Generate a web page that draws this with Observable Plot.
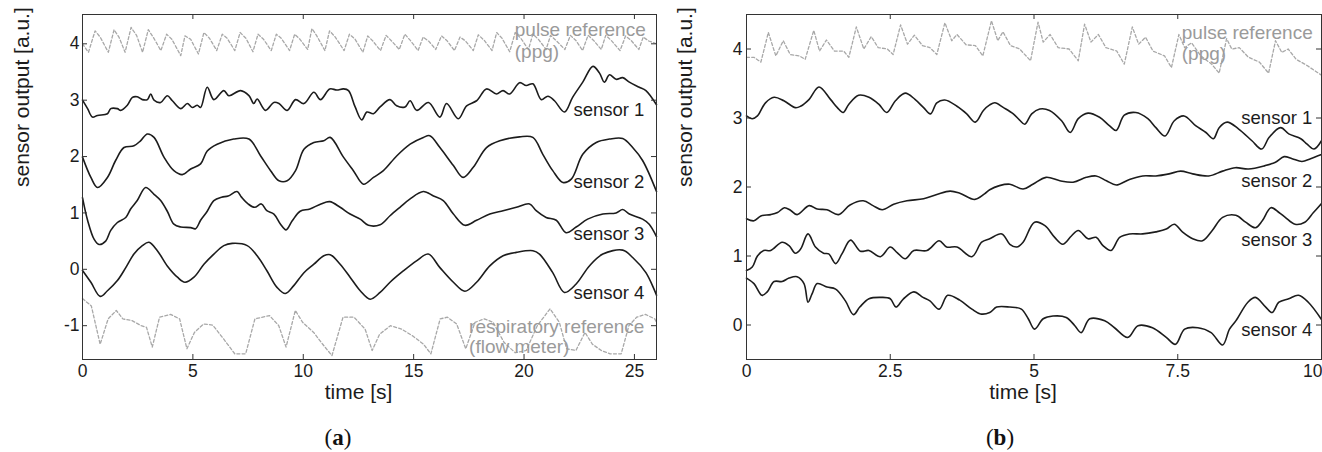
<!DOCTYPE html>
<html>
<head>
<meta charset="utf-8">
<script src="https://cdn.jsdelivr.net/npm/d3@7"></script>
<script src="https://cdn.jsdelivr.net/npm/@observablehq/plot@0.6"></script>
<style>
  html, body { margin: 0; padding: 0; background: #fff; }
  #wrap { position: relative; width: 1322px; height: 452px; overflow: hidden; }
  #pa { position: absolute; left: 0; top: 0; }
  #pb { position: absolute; left: 660px; top: 0; }
  .cap { position: absolute; width: 100px; text-align: center; font-family: "Liberation Serif", "Times New Roman", serif; font-size: 23px; line-height: 23px; color: #111; }
</style>
</head>
<body>
<div id="wrap">
  <div id="pa"></div>
  <div id="pb"></div>
  <div class="cap" style="left:288px; top:426px;">(<b>a</b>)</div>
  <div class="cap" style="left:950px; top:426px;">(<b>b</b>)</div>
</div>
<script>
// ---------- Panel (a) data : [time s, output a.u.] ----------
const aPulse = [[0,4.0],[0.27,3.85],[0.57,4.23],[0.8,4.12],[1.17,3.85],[1.43,4.25],[1.65,4.12],[1.93,3.85],[2.2,4.29],[2.45,4.15],[2.72,3.85],[2.98,4.25],[3.2,4.12],[3.55,3.88],[3.81,4.17],[4.05,4.08],[4.45,3.79],[4.64,4.14],[4.9,4.08],[5.25,3.82],[5.5,4.2],[5.75,4.1],[6.08,3.88],[6.33,4.17],[6.55,4.1],[6.9,3.88],[7.14,4.2],[7.4,4.1],[7.72,3.86],[7.95,4.17],[8.2,4.08],[8.55,3.88],[8.78,4.17],[9.0,4.1],[9.38,3.88],[9.61,4.17],[9.85,4.08],[10.2,3.9],[10.39,4.27],[10.6,4.15],[10.98,3.88],[11.19,4.23],[11.45,4.12],[11.85,3.88],[12.09,4.17],[12.35,4.08],[12.7,3.85],[12.92,4.14],[13.15,4.05],[13.5,3.88],[13.75,4.15],[14.0,4.05],[14.35,3.9],[14.6,4.17],[14.85,4.06],[15.2,3.88],[15.43,4.12],[15.7,4.04],[16.0,3.9],[16.26,4.14],[16.5,4.06],[16.85,3.88],[17.1,4.12],[17.35,4.05],[17.7,3.88],[17.93,4.16],[18.2,4.06],[18.55,3.88],[18.76,4.2],[19.0,4.1],[19.35,3.86],[19.6,4.2],[19.85,4.1],[20.2,3.9],[20.4,4.17],[20.65,4.08],[21.0,3.9],[21.2,4.15],[21.45,4.06],[21.85,3.9],[22.1,4.15],[22.35,4.06],[22.65,3.88],[22.9,4.15],[23.15,4.06],[23.5,3.9],[23.7,4.15],[23.95,4.06],[24.35,3.88],[24.6,4.14],[24.85,4.06],[25.2,3.9],[25.4,4.12],[25.65,4.05],[26,4.0]];
const aSensor1 = [[0,3.0],[0.23,2.85],[0.45,2.7],[0.68,2.73],[1.13,2.76],[1.28,2.85],[1.58,2.85],[1.73,2.82],[2.03,2.91],[2.26,3.05],[2.48,3.06],[2.71,3.01],[2.94,3.01],[3.09,3.11],[3.24,3.0],[3.54,2.96],[3.84,3.08],[4.07,2.99],[4.45,2.85],[4.75,2.94],[4.97,2.87],[5.2,2.91],[5.35,2.87],[5.65,3.23],[5.95,3.01],[6.4,3.17],[6.63,3.08],[7.16,3.17],[7.54,3.08],[7.76,2.94],[7.91,3.02],[8.29,2.82],[8.67,2.96],[8.9,2.94],[9.27,2.82],[9.65,3.01],[10.03,2.94],[10.48,3.14],[10.78,3.01],[11.2,3.2],[11.52,3.18],[11.82,3.2],[12.05,3.17],[12.35,2.88],[12.65,2.65],[12.88,2.79],[13.18,2.76],[13.48,2.88],[13.93,3.01],[14.23,2.9],[14.61,2.88],[14.84,2.99],[15.14,2.82],[15.67,2.96],[16.19,2.7],[16.49,2.94],[17.02,2.67],[17.4,2.9],[17.85,2.99],[18.3,3.2],[18.75,3.11],[19.05,3.17],[19.35,3.11],[19.8,3.31],[20.1,3.26],[20.4,3.29],[20.78,3.01],[21.08,3.07],[21.38,2.99],[21.83,2.79],[22.2,3.05],[22.66,3.32],[23.12,3.6],[23.42,3.48],[23.64,3.32],[23.87,3.45],[24.17,3.37],[24.47,3.4],[24.77,3.32],[25.22,3.23],[25.52,3.17],[26,2.92]];
const aSensor2 = [[0,1.99],[0.38,1.63],[0.68,1.45],[1.13,1.63],[1.5,1.93],[1.88,2.16],[2.33,2.19],[2.63,2.28],[2.94,2.4],[3.24,2.34],[3.69,1.99],[4.14,1.75],[4.52,1.68],[4.9,1.78],[5.35,1.87],[5.65,2.1],[6.1,2.22],[6.85,2.31],[7.54,2.31],[8.07,2.01],[8.52,1.75],[8.9,1.57],[9.27,1.57],[9.65,1.75],[10.03,2.13],[10.48,2.25],[10.93,2.28],[11.22,2.34],[11.82,1.99],[12.27,1.75],[12.73,1.51],[13.18,1.63],[13.63,1.75],[14.23,2.01],[14.84,2.22],[15.44,2.34],[15.73,2.37],[16.19,2.16],[16.8,1.84],[17.24,1.63],[17.7,1.81],[18.3,2.16],[18.9,2.28],[19.8,2.35],[20.4,2.34],[20.85,2.04],[21.3,1.75],[21.76,1.54],[22.14,1.6],[22.66,2.04],[23.27,2.25],[23.87,2.31],[24.47,2.32],[24.92,2.16],[25.37,1.93],[26,1.38]];
const aSensor3 = [[0,1.27],[0.23,0.87],[0.53,0.53],[0.75,0.44],[1.05,0.5],[1.28,0.69],[1.58,0.83],[1.96,0.92],[2.18,1.07],[2.48,1.22],[2.86,1.45],[3.24,1.33],[3.54,1.22],[3.84,1.03],[4.14,0.8],[4.45,0.75],[4.9,0.74],[5.12,0.72],[5.35,0.87],[5.65,1.03],[5.95,1.22],[6.3,1.28],[6.6,1.3],[7.0,1.38],[7.2,1.28],[7.5,1.16],[7.8,1.1],[8.1,1.16],[8.35,1.04],[8.67,0.98],[8.97,0.8],[9.22,0.7],[9.5,0.86],[9.86,1.03],[10.3,1.07],[10.8,1.16],[11.2,1.2],[11.67,1.1],[12.12,0.98],[12.58,0.89],[12.95,0.78],[13.48,0.79],[13.93,0.95],[14.38,1.1],[14.84,1.25],[15.44,1.38],[15.9,1.3],[16.34,1.22],[16.8,0.98],[17.32,0.78],[17.85,0.87],[18.45,0.98],[19.05,1.04],[19.65,1.1],[20.25,1.16],[20.55,1.04],[21.0,0.92],[21.46,0.87],[21.9,0.65],[22.36,0.75],[22.88,0.89],[23.57,0.98],[24.17,1.0],[24.47,1.06],[24.77,0.98],[25.37,0.89],[25.67,0.8],[26,0.58]];
const aSensor4 = [[0,-0.02],[0.38,-0.23],[0.8,-0.48],[1.13,-0.38],[1.58,-0.2],[1.96,0.03],[2.33,0.27],[2.71,0.42],[3.01,0.48],[3.39,0.33],[3.84,0.06],[4.3,-0.14],[4.64,-0.23],[5.05,-0.14],[5.5,0.09],[5.95,0.27],[6.4,0.42],[6.78,0.46],[7.46,0.42],[7.91,0.24],[8.36,-0.03],[8.81,-0.32],[9.19,-0.43],[9.57,-0.29],[10.03,-0.06],[10.48,0.09],[10.93,0.24],[11.22,0.26],[11.67,0.09],[12.12,-0.14],[12.58,-0.38],[13.03,-0.53],[13.48,-0.41],[13.93,-0.23],[14.53,-0.03],[15.13,0.15],[15.66,0.27],[16.19,0.03],[16.8,-0.23],[17.32,-0.39],[17.85,-0.23],[18.45,0.06],[19.05,0.24],[19.65,0.3],[20.4,0.33],[20.7,0.27],[21.3,-0.06],[21.83,-0.41],[22.36,-0.26],[22.96,0.06],[23.57,0.27],[24.47,0.34],[24.92,0.21],[25.52,-0.06],[26,-0.46]];
const aResp = [[0,-0.52],[0.4,-0.65],[0.8,-1.33],[1.16,-0.88],[1.53,-0.73],[1.83,-0.88],[2.24,-0.91],[2.66,-1.0],[2.9,-1.03],[3.16,-1.38],[3.49,-0.85],[3.99,-0.8],[4.4,-0.88],[4.73,-1.41],[5.07,-1.12],[5.48,-0.97],[5.9,-0.99],[6.4,-1.24],[6.9,-1.5],[7.39,-1.5],[7.81,-0.88],[8.47,-0.82],[8.89,-1.0],[9.22,-1.38],[9.64,-0.73],[9.97,-0.94],[10.47,-1.12],[10.88,-1.33],[11.3,-1.53],[11.8,-0.85],[12.3,-0.85],[12.8,-1.06],[13.12,-1.44],[13.46,-1.15],[13.95,-1.0],[14.45,-1.06],[14.95,-1.18],[15.45,-1.33],[15.78,-1.5],[16.2,-0.88],[16.53,-0.85],[16.95,-0.97],[17.36,-1.41],[17.78,-0.94],[18.2,-0.88],[18.6,-0.94],[19.1,-1.3],[19.6,-1.48],[20.1,-1.44],[20.6,-1.0],[21.18,-0.7],[21.6,-0.94],[21.93,-1.41],[22.35,-1.44],[22.76,-1.12],[23.1,-1.33],[23.5,-1.44],[23.9,-1.5],[24.4,-1.5],[24.75,-1.0],[25.1,-0.85],[25.5,-0.8],[25.92,-0.88],[26,-0.94]];
const aXTicks = [0, 5, 10, 15, 20, 25];
const aYTicks = [-1, 0, 1, 2, 3, 4];
const aSensorLabels = [{t: 25.45, v: 2.82, text: "sensor 1"}, {t: 25.45, v: 1.54, text: "sensor 2"}, {t: 25.45, v: 0.63, text: "sensor 3"}, {t: 25.45, v: -0.43, text: "sensor 4"}];
const aRefLabels = [{t: 19.58, v: 4.24, text: "pulse reference"}, {t: 19.58, v: 3.85, text: "(ppg)"}, {t: 17.51, v: -1.03, text: "respiratory reference"}, {t: 17.51, v: -1.385, text: "(flow meter)"}];

// ---------- Panel (b) data ----------
const bPulse = [[0,3.88],[0.13,3.88],[0.25,3.81],[0.38,4.24],[0.51,3.9],[0.64,4.12],[0.76,3.92],[0.92,3.9],[1.02,3.85],[1.17,4.27],[1.27,3.97],[1.39,4.13],[1.53,3.97],[1.69,3.97],[1.78,3.88],[1.91,4.32],[2.04,4.0],[2.17,4.18],[2.29,4.02],[2.45,4.0],[2.55,3.92],[2.68,4.35],[2.8,4.07],[2.92,4.2],[3.06,4.05],[3.19,4.02],[3.31,3.92],[3.45,4.38],[3.57,4.12],[3.66,4.21],[3.82,4.06],[3.98,4.05],[4.11,3.9],[4.26,4.41],[4.37,4.12],[4.46,4.25],[4.59,4.05],[4.75,4.0],[4.94,3.83],[5.07,4.39],[5.16,4.1],[5.28,4.21],[5.42,4.02],[5.61,4.0],[5.77,3.83],[5.88,4.36],[5.99,4.1],[6.12,4.21],[6.25,4.02],[6.44,3.97],[6.57,3.78],[6.71,4.32],[6.82,4.07],[6.94,4.17],[7.07,3.97],[7.27,3.9],[7.39,3.73],[7.52,4.21],[7.62,4.02],[7.74,4.09],[7.9,3.9],[8.09,3.78],[8.22,3.65],[8.35,4.15],[8.44,4.0],[8.57,4.02],[8.73,3.88],[8.92,3.81],[9.08,3.65],[9.2,4.12],[9.31,3.95],[9.42,4.0],[9.56,3.85],[9.75,3.76],[10,3.62]];
const bSensor1 = [[0,3.03],[0.1,2.99],[0.19,3.03],[0.33,3.22],[0.48,3.3],[0.65,3.25],[0.85,3.15],[0.94,3.17],[1.09,3.27],[1.26,3.45],[1.46,3.27],[1.58,3.15],[1.68,3.08],[1.78,3.2],[1.95,3.33],[2.13,3.3],[2.3,3.2],[2.44,3.08],[2.59,3.25],[2.76,3.36],[2.93,3.27],[3.08,3.15],[3.2,3.06],[3.31,3.22],[3.45,3.26],[3.66,3.17],[3.83,3.06],[3.98,2.94],[4.12,3.11],[4.23,3.19],[4.32,3.22],[4.47,3.15],[4.64,3.06],[4.75,2.97],[4.84,2.91],[4.96,3.06],[5.1,3.13],[5.27,3.11],[5.48,2.96],[5.63,2.79],[5.77,2.99],[5.94,3.07],[6.14,3.01],[6.31,2.89],[6.43,2.82],[6.57,3.04],[6.77,3.08],[6.98,2.99],[7.12,2.86],[7.28,2.74],[7.44,2.96],[7.61,3.03],[7.81,2.89],[7.99,2.79],[8.12,2.7],[8.22,2.86],[8.36,2.94],[8.56,2.84],[8.79,2.67],[8.96,2.55],[9.09,2.72],[9.29,2.86],[9.43,2.77],[9.64,2.7],[9.75,2.62],[9.87,2.55],[10,2.67]];
const bSensor2 = [[0,1.54],[0.13,1.51],[0.25,1.58],[0.42,1.6],[0.54,1.63],[0.66,1.7],[0.77,1.66],[0.88,1.6],[1.09,1.73],[1.23,1.68],[1.4,1.67],[1.6,1.6],[1.8,1.74],[2.03,1.8],[2.2,1.73],[2.36,1.67],[2.56,1.75],[2.79,1.8],[3.08,1.83],[3.31,1.89],[3.54,1.94],[3.71,1.91],[3.97,1.82],[4.14,1.9],[4.23,1.96],[4.4,2.02],[4.58,2.04],[4.81,1.97],[4.98,2.04],[5.21,2.14],[5.45,2.09],[5.68,2.07],[5.91,2.14],[6.08,2.16],[6.26,2.09],[6.43,2.03],[6.66,2.11],[6.89,2.16],[7.12,2.16],[7.35,2.19],[7.55,2.23],[7.76,2.19],[8.04,2.16],[8.28,2.23],[8.5,2.28],[8.73,2.26],[9.02,2.31],[9.2,2.36],[9.35,2.44],[9.49,2.41],[9.66,2.37],[9.81,2.41],[10,2.47]];
const bSensor3 = [[0,0.79],[0.1,0.84],[0.19,1.0],[0.3,1.08],[0.42,1.08],[0.62,1.2],[0.74,1.15],[0.85,1.04],[0.94,1.1],[1.07,1.32],[1.2,1.13],[1.34,1.04],[1.43,1.03],[1.55,0.89],[1.66,1.03],[1.81,1.23],[1.98,1.07],[2.13,1.08],[2.33,0.99],[2.5,1.13],[2.62,1.05],[2.76,0.96],[2.91,1.08],[3.14,1.08],[3.35,1.22],[3.48,1.13],[3.66,1.13],[3.92,0.99],[4.09,1.2],[4.23,1.25],[4.44,1.32],[4.58,1.17],[4.7,1.13],[4.81,1.2],[5.01,1.49],[5.19,1.44],[5.36,1.27],[5.5,1.17],[5.65,1.29],[5.77,1.37],[5.94,1.25],[6.08,1.27],[6.2,1.15],[6.34,1.08],[6.49,1.27],[6.66,1.32],[6.89,1.32],[7.12,1.35],[7.3,1.39],[7.44,1.46],[7.58,1.35],[7.76,1.25],[7.93,1.22],[8.1,1.37],[8.28,1.56],[8.51,1.59],[8.68,1.49],[8.85,1.41],[8.97,1.51],[9.12,1.7],[9.26,1.63],[9.37,1.56],[9.54,1.46],[9.71,1.49],[9.86,1.63],[10,1.76]];
const bSensor4 = [[0,0.68],[0.13,0.6],[0.27,0.43],[0.36,0.48],[0.48,0.63],[0.62,0.63],[0.74,0.68],[0.88,0.7],[1.0,0.6],[1.07,0.33],[1.14,0.45],[1.23,0.6],[1.4,0.55],[1.55,0.52],[1.72,0.35],[1.86,0.15],[1.97,0.26],[2.13,0.38],[2.35,0.4],[2.5,0.38],[2.6,0.26],[2.73,0.38],[2.91,0.48],[3.07,0.4],[3.19,0.35],[3.35,0.23],[3.5,0.43],[3.71,0.36],[3.92,0.23],[4.07,0.16],[4.23,0.18],[4.35,0.26],[4.58,0.26],[4.78,0.23],[4.9,0.09],[5.01,-0.06],[5.16,0.09],[5.33,0.13],[5.56,0.11],[5.71,-0.01],[5.82,-0.11],[5.97,0.09],[6.23,0.06],[6.4,-0.04],[6.63,-0.18],[6.81,-0.01],[7.06,-0.04],[7.3,-0.18],[7.46,-0.28],[7.62,-0.06],[7.85,-0.04],[8.08,-0.11],[8.28,-0.29],[8.4,-0.06],[8.51,0.06],[8.72,0.33],[8.85,0.4],[9.03,0.26],[9.14,0.18],[9.26,0.33],[9.43,0.38],[9.6,0.43],[9.77,0.33],[10,0.08]];
const bXTicks = [0, 2.5, 5, 7.5, 10];
const bYTicks = [0, 1, 2, 3, 4];
const bSensorLabels = [{t: 9.84, v: 3.0, text: "sensor 1"}, {t: 9.84, v: 2.09, text: "sensor 2"}, {t: 9.84, v: 1.23, text: "sensor 3"}, {t: 9.84, v: -0.08, text: "sensor 4"}];
const bRefLabels = [{t: 7.57, v: 4.24, text: "pulse reference"}, {t: 7.57, v: 3.93, text: "(ppg)"}];

const yLabel = "sensor output [a.u.]";
const xLabel = "time [s]";

// ---------- drawing ----------
const FONT = "'Liberation Sans', Arial, Helvetica, sans-serif";
const INK = "#1c1c1c";
const GREY = "#a8a8a8";

function panel(o) {
  const pw = o.width - o.ml - o.mr;
  const ph = o.height - o.mt - o.mb;
  const tick = 5;
  const solid = (d) => Plot.line(d, {x: (p) => p[0], y: (p) => p[1], stroke: INK, strokeWidth: 1.6, curve: "catmull-rom"});
  const dashed = (d) => Plot.line(d, {x: (p) => p[0], y: (p) => p[1], stroke: GREY, strokeWidth: 1.3, strokeDasharray: "3,2.2"});
  const xMax = o.xDomain[1];
  // the last tick label sits at the right frame edge: keep it inside the picture
  const edgeTicks = o.xTicks.filter((d) => d === xMax);
  const innerTicks = o.xTicks.filter((d) => d !== xMax);
  return Plot.plot({
    width: o.width, height: o.height,
    marginLeft: o.ml, marginRight: o.mr, marginTop: o.mt, marginBottom: o.mb,
    style: {fontFamily: FONT, color: INK, background: "transparent", overflow: "visible"},
    x: {domain: o.xDomain},
    y: {domain: o.yDomain},
    marks: [
      ...o.dashed.map(dashed),
      ...o.solid.map(solid),
      Plot.text(o.refLabels, {x: "t", y: "v", text: "text", textAnchor: "start", lineAnchor: "middle", fontSize: 19, fill: "#9a9a9a"}),
      Plot.text(o.sensorLabels, {x: "t", y: "v", text: "text", textAnchor: "end", lineAnchor: "middle", fontSize: 18.5, fill: INK}),
      Plot.frame({stroke: "#333", strokeWidth: 1}),
      Plot.tickY(o.yTicks, {y: (d) => d, insetRight: pw - tick, stroke: "#333"}),
      Plot.tickY(o.yTicks, {y: (d) => d, insetLeft: pw - tick, stroke: "#333"}),
      Plot.tickX(o.xTicks, {x: (d) => d, insetTop: ph - tick, stroke: "#333"}),
      Plot.tickX(o.xTicks, {x: (d) => d, insetBottom: ph - tick, stroke: "#333"}),
      Plot.axisX({ticks: innerTicks, tickSize: 0, tickPadding: 5, fontSize: 17.5, label: null, tickFormat: (d) => String(d)}),
      Plot.text(edgeTicks, {x: (d) => d, text: (d) => String(d), frameAnchor: "bottom", dy: 5, dx: o.edgeDx, textAnchor: o.edgeAnchor, lineAnchor: "top", fontSize: 17.5, fill: INK}),
      Plot.axisY({ticks: o.yTicks, tickSize: 0, tickPadding: o.ypad, fontSize: 17.5, label: null, tickFormat: (d) => String(d)}),
      Plot.text([xLabel], {frameAnchor: "bottom", dy: 33, dx: -11, fontSize: 21, lineAnchor: "middle", fill: INK}),
      Plot.text([yLabel], {frameAnchor: "left", dx: o.ylabDx, rotate: -90, fontSize: 21, lineAnchor: "middle", fill: INK})
    ]
  });
}

document.getElementById("pa").append(panel({
  width: 660, height: 405, ml: 82, mr: 4, mt: 14, mb: 46,
  xDomain: [0, 26], yDomain: [-1.6, 4.52],
  xTicks: aXTicks, yTicks: aYTicks, ypad: 3, ylabDx: -60, edgeDx: 0, edgeAnchor: "middle",
  dashed: [aPulse, aResp],
  solid: [aSensor1, aSensor2, aSensor3, aSensor4],
  sensorLabels: aSensorLabels, refLabels: aRefLabels
}));

document.getElementById("pb").append(panel({
  width: 662, height: 405, ml: 86, mr: 1, mt: 14, mb: 46,
  xDomain: [0, 10], yDomain: [-0.5, 4.5],
  xTicks: bXTicks, yTicks: bYTicks, ypad: 4, ylabDx: -61, edgeDx: 1, edgeAnchor: "end",
  dashed: [bPulse],
  solid: [bSensor1, bSensor2, bSensor3, bSensor4],
  sensorLabels: bSensorLabels, refLabels: bRefLabels
}));
</script>
</body>
</html>
